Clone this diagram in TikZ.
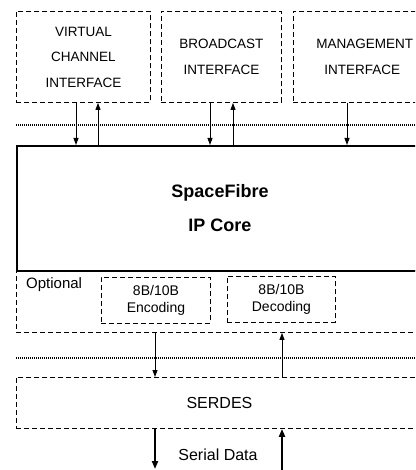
\documentclass[tikz,border=0pt]{standalone}
\usepackage{fontspec}
\setmainfont{Liberation Sans}
\usetikzlibrary{arrows.meta}
\begin{document}
\begin{tikzpicture}[x=1pt,y=-1pt,
  dbox/.style={draw, dash pattern=on 5pt off 3pt, line width=0.9pt, inner sep=0pt, anchor=north west, align=center},
  topfont/.style={font=\fontsize{13.5}{25.5}\selectfont},
  smallfont/.style={font=\fontsize{14}{17}\selectfont},
  dotline/.style={line width=1.3pt, dash pattern=on 1pt off 1pt},
  arr/.style={line width=0.9pt, -{Triangle[length=7pt,width=5pt]}},
  thickarr/.style={line width=2pt, -{Triangle[length=8pt,width=6pt]}}]
\useasboundingbox (0,0) rectangle (415,470);
\clip (0,0) rectangle (415,470);
% top interface boxes
\node[dbox, topfont, minimum width=134pt, minimum height=91pt] (vc) at (16,11) {VIRTUAL\\CHANNEL\\INTERFACE};
\node[dbox, topfont, minimum width=120pt, minimum height=91pt] (bc) at (161,11) {BROADCAST\\INTERFACE};
\node[dbox, topfont, minimum width=140pt, minimum height=91pt, text width=110pt, align=left] (mg) at (293,11) {\hspace*{8pt}MANAGEMENT\\\hspace*{16pt}INTERFACE};
% dotted separators
\coordinate (d1a) at (16,125);
\coordinate (d1b) at (425,125);
\draw[dotline] (d1a) -- (d1b);
\coordinate (d2a) at (16,358);
\coordinate (d2b) at (425,358);
\draw[dotline] (d2a) -- (d2b);
% optional region
\node[dbox, minimum width=406pt, minimum height=62pt] (opt) at (16,270) {};
\node[anchor=west, font=\fontsize{15}{17}\selectfont, inner sep=0pt] (optl) at (26,285) {Optional};
\node[dbox, smallfont, minimum width=109pt, minimum height=46pt] (enc) at (101,277) {8B/10B\\Encoding};
\node[dbox, smallfont, minimum width=108pt, minimum height=46pt] (dec) at (227,276) {8B/10B\\Decoding};
% core
\node[draw, line width=2pt, inner sep=0pt, anchor=north west, minimum width=406pt, minimum height=125pt, align=center,
      font=\fontsize{18}{34}\selectfont\bfseries] (core) at (16,145) {SpaceFibre\\IP Core};
% serdes
\node[dbox, font=\fontsize{16}{18}\selectfont, minimum width=406pt, minimum height=51pt] (serdes) at (16,377) {\hspace*{-0pt}SERDES};
\node[font=\fontsize{16}{18}\selectfont, inner sep=0pt] (sdl) at (218,455) {Serial Data};
% arrow x positions
\coordinate (xa) at (76,0);
\coordinate (xb) at (98,0);
\coordinate (xc) at (210,0);
\coordinate (xd) at (233,0);
\coordinate (xe) at (347,0);
\coordinate (xf) at (155,0);
\coordinate (xg) at (282,0);
\draw[arr] (vc.south -| xa) -- (core.north -| xa);
\draw[arr] (core.north -| xb) -- (vc.south -| xb);
\draw[arr] (bc.south -| xc) -- (core.north -| xc);
\draw[arr] (core.north -| xd) -- (bc.south -| xd);
\draw[arr] (mg.south -| xe) -- (core.north -| xe);
\draw[arr] (opt.south -| xf) -- (serdes.north -| xf);
\draw[arr] (serdes.north -| xg) -- (opt.south -| xg);
\coordinate (sdo) at (155,469);
\coordinate (sdi) at (282,470);
\draw[thickarr] (serdes.south -| xf) -- (sdo);
\draw[thickarr] (sdi) -- (serdes.south -| xg);
\end{tikzpicture}
\end{document}
